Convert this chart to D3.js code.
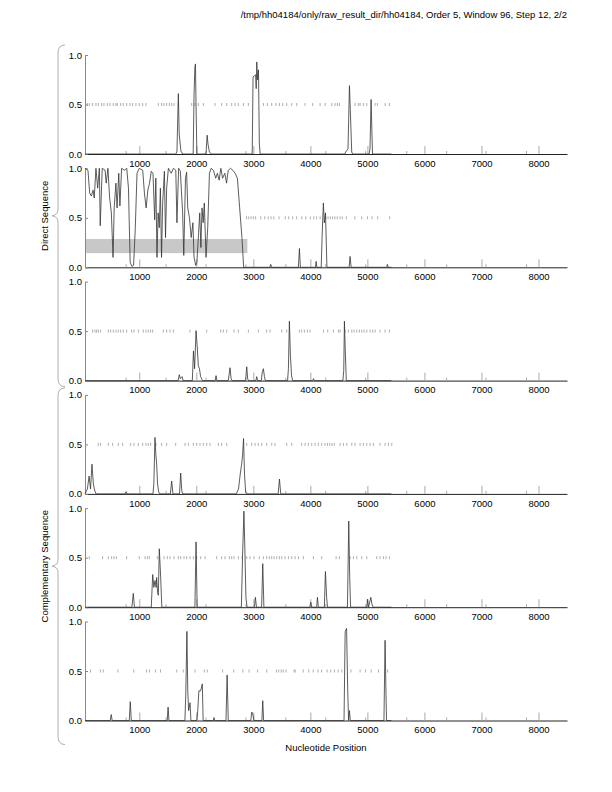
<!DOCTYPE html>
<html>
<head>
<meta charset="utf-8">
<script src="https://cdn.jsdelivr.net/npm/d3@7"></script>
<style>
  body { margin: 0; background: #fff; }
  text { font-family: "Liberation Sans", Arial, Helvetica, sans-serif; font-size: 9.5px; fill: #000; }
</style>
</head>
<body>
<div id="chart"></div>
<script>
const titleText = "/tmp/hh04184/only/raw_result_dir/hh04184, Order 5, Window 96, Step 12, 2/2";
const xTicks = [1000, 2000, 3000, 4000, 5000, 6000, 7000, 8000];
const xMinorTicks = [770, 1470, 2170, 2870, 3570, 4270, 4970, 5690, 6390, 7080, 7790];
const yTicks = [0, 0.5, 1];
const strandLabels = ["Direct Sequence", "Complementary Sequence"];

// coding potential per frame: [position, value]
const curve1 = [[48,0],[1640,0],[1660,0.02],[1685,0.61],[1700,0.2],[1730,0.03],[1760,0],
  [1945,0],[1960,0.6],[1975,0.88],[1985,0.91],[1995,0.5],[2010,0],
  [2170,0],[2190,0.19],[2205,0.1],[2230,0.02],[2260,0],
  [2980,0],[2995,0.78],[3020,0.79],[3040,0.8],[3050,0.66],[3060,0.93],[3075,0.75],[3090,0.85],[3105,0.1],[3120,0],
  [4600,0],[4630,0.03],[4660,0.05],[4685,0.69],[4700,0.45],[4725,0.02],[4740,0],
  [5030,0],[5045,0.05],[5065,0.55],[5080,0.2],[5090,0],[5420,0]];
const curve2 = [[48,1],[100,0.98],[130,0.75],[160,0.72],[190,0.78],[210,0.7],[240,1],[270,0.8],[300,1],[315,0.42],
  [350,1],[400,0.98],[420,0.85],[450,1],[480,0.7],[510,0.55],[540,0.1],[560,0.6],[590,0.85],[610,0.6],[640,0.95],
  [660,0.62],[690,1],[740,0.98],[780,1],[810,0.8],[840,0.05],[870,0.01],[900,0.02],[930,0.4],[960,0.95],[1000,1],
  [1060,0.98],[1090,0.75],[1120,0.6],[1150,0.78],[1180,0.85],[1210,0.97],[1240,0.95],[1270,0.48],[1290,0.9],
  [1310,0.1],[1330,0.55],[1350,0.4],[1370,0.8],[1390,0.1],[1410,0.65],[1440,0.97],[1460,0.3],[1480,0.8],[1510,1],
  [1560,0.95],[1600,1],[1640,0.98],[1660,0.45],[1690,1],[1720,0.97],[1760,0.55],[1780,0.12],[1810,0.9],[1830,0.96],
  [1850,0.6],[1880,0.5],[1910,0.3],[1940,0.45],[1960,0.1],[1990,0.02],[2010,0.05],[2040,0.35],[2060,0.55],[2080,0.2],
  [2100,0.6],[2120,0.45],[2140,0.65],[2170,0.1],[2200,0.4],[2230,0.95],[2260,1],[2300,0.98],[2340,0.9],[2370,0.95],
  [2400,0.88],[2430,1],[2460,0.9],[2500,0.95],[2530,0.85],[2560,0.98],[2600,1],[2640,0.98],[2680,0.95],[2720,0.9],
  [2760,0.6],[2800,0.3],[2830,0],
  [3290,0],[3305,0.03],[3320,0],[3790,0],[3808,0.19],[3825,0],[4090,0],[4100,0.06],[4115,0],
  [4190,0],[4205,0.3],[4228,0.65],[4245,0.45],[4265,0.55],[4290,0],
  [4680,0],[4696,0.11],[4715,0],[5340,0],[5350,0.03],[5365,0],[5420,0]];
const curve3 = [[48,0],[1680,0],[1702,0.06],[1720,0.02],[1750,0.04],[1770,0],
  [1930,0],[1950,0.3],[1970,0.12],[1995,0.5],[2015,0.35],[2035,0.15],[2055,0.12],[2075,0.04],[2110,0],
  [2330,0],[2346,0.05],[2360,0],
  [2560,0],[2575,0.06],[2591,0.13],[2610,0.02],[2625,0],
  [2865,0],[2884,0.14],[2900,0.02],[2915,0],
  [3045,0],[3059,0.04],[3075,0],
  [3140,0],[3155,0.08],[3176,0.12],[3195,0.04],[3210,0],
  [3600,0],[3615,0.12],[3632,0.6],[3650,0.25],[3670,0.05],[3690,0],
  [4040,0],[4055,0.02],[4070,0],
  [4570,0],[4585,0.1],[4597,0.6],[4612,0.3],[4630,0],[5420,0]];
const curve4 = [[48,0],[90,0.05],[120,0.18],[145,0.05],[170,0.3],[195,0.1],[215,0.04],[240,0],
  [750,0],[767,0.02],[785,0],
  [1240,0],[1255,0.1],[1275,0.57],[1290,0.4],[1305,0.3],[1320,0.1],[1340,0.02],[1360,0],
  [1545,0],[1568,0.13],[1590,0],
  [1705,0],[1726,0.21],[1745,0.03],[1765,0],
  [2700,0],[2740,0.05],[2770,0.2],[2795,0.3],[2812,0.4],[2828,0.56],[2845,0.2],[2865,0.02],[2890,0],
  [3435,0],[3458,0.15],[3480,0],[5420,0]];
const curve5 = [[48,0],[870,0],[895,0.14],[915,0],
  [1210,0],[1235,0.33],[1255,0.2],[1276,0.27],[1295,0.2],[1305,0.3],[1320,0.15],[1334,0.12],[1351,0.59],[1375,0.3],[1395,0],
  [1975,0],[1995,0.66],[2015,0],
  [2790,0],[2810,0.5],[2835,0.97],[2850,0.62],[2870,0.1],[2890,0],
  [3020,0],[3036,0.1],[3055,0],
  [3145,0],[3165,0.44],[3185,0],
  [3990,0],[4007,0.05],[4025,0],[4110,0],[4124,0.1],[4140,0],
  [4245,0],[4264,0.36],[4285,0.1],[4300,0],
  [4650,0],[4673,0.87],[4690,0.3],[4705,0],
  [4990,0],[5000,0.08],[5020,0],[5060,0.1],[5080,0.03],[5100,0],[5420,0]];
const curve6 = [[48,0],[490,0],[508,0.06],[525,0],
  [825,0],[842,0.19],[860,0],
  [1490,0],[1505,0.135],[1520,0],
  [1800,0],[1815,0.27],[1835,0.9],[1850,0.3],[1865,0.1],[1890,0.18],[1905,0],
  [2010,0],[2025,0.1],[2045,0.3],[2075,0.3],[2105,0.37],[2120,0],
  [2300,0],[2310,0.03],[2320,0],
  [2520,0],[2540,0.46],[2560,0],
  [2955,0],[2972,0.085],[2995,0.05],[3010,0],
  [3150,0],[3165,0.2],[3180,0],
  [4590,0],[4610,0.9],[4635,0.93],[4655,0.3],[4670,0],[4685,0.1],[4700,0],
  [5290,0],[5310,0.81],[5322,0.4],[5335,0],[5420,0]];

// stop codon positions per frame
const stops1 = [88,123,181,240,281,340,380,439,485,544,590,614,673,719,778,836,883,941,1000,1059,1117,1334,1392,1433,1480,
  1527,1568,1609,1685,1919,1977,2036,2123,2328,2445,2533,2620,2679,2737,2825,2913,3176,3246,3322,3398,3457,3515,3585,
  3673,3761,3907,4041,4170,4258,4375,4433,4474,4509,4784,4842,4872,4930,4989,5135,5175,5311,5386];
const stops2 = [2880,2920,2960,3000,3040,3130,3200,3260,3310,3360,3450,3560,3620,3690,3760,3850,3920,4000,4060,4110,4170,
  4270,4310,4350,4390,4430,4470,4520,4560,4630,4780,4900,5000,5080,5180,5390];
const stops3 = [182,223,252,281,322,457,498,544,590,632,673,719,778,866,907,983,1070,1117,1158,1199,1234,1421,1480,1538,
  1597,1889,1995,2182,2428,2474,2533,2661,2737,2913,3088,3234,3293,3497,3585,3807,3848,3895,3947,3994,4228,4304,4404,
  4492,4521,4609,4667,4726,4766,4813,4860,4901,4942,4989,5047,5094,5135,5222,5310,5386];
const stops4 = [281,322,457,533,632,708,849,907,983,1059,1117,1158,1199,1292,1392,1480,1638,1802,1860,1948,2006,2065,2123,
  2182,2240,2387,2445,2533,2884,2971,3030,3088,3147,3234,3322,3380,3585,3673,3848,3907,3965,4024,4082,4140,4199,4257,
  4300,4340,4380,4420,4521,4579,4638,4726,4784,4872,4930,4989,5047,5105,5222,5310,5369,5427];
const stops5 = [123,357,457,515,556,597,778,1000,1100,1141,1176,1316,1433,1492,1538,1609,1685,1726,1784,1831,1889,1948,
  2006,2077,2153,2357,2445,2503,2579,2620,2661,2737,2802,2884,2942,3012,3105,3176,3234,3281,3322,3363,3410,3457,3497,
  3556,3615,3673,3731,3790,3877,4053,4199,4451,4509,4696,4755,4813,4901,4989,5164,5222,5281,5327,5386];
const stops6 = [144,318,368,626,903,1128,1179,1283,1372,1656,1770,1977,2140,2193,2461,2656,2816,2925,3075,3235,3405,3444,
  3489,3525,3573,3714,3733,3875,3972,4049,4133,4196,4293,4358,4422,4486,4551,4712,4872,4968,5066,5195,5355];

// shaded gene region: [panel, start, end, low, high]
const genes = [[1, 48, 2895, 0.143, 0.286]];

const curves = [curve1, curve2, curve3, curve4, curve5, curve6];
const stops = [stops1, stops2, stops3, stops4, stops5, stops6];

const width = 612, height = 792;
const plotLeft = 85, plotRight = 567;
const firstTop = 55, panelHeight = 99, panelStep = 113.3;

const svg = d3.select("#chart").append("svg")
  .attr("width", width)
  .attr("height", height);

const x = d3.scaleLinear().domain([48, 8500]).range([plotLeft, plotRight]);

svg.append("text")
  .attr("x", plotRight)
  .attr("y", 17.5)
  .attr("text-anchor", "end")
  .text(titleText);

curves.forEach((curve, i) => {
  const top = firstTop + i * panelStep;
  const y = d3.scaleLinear().domain([0, 1]).range([top + panelHeight, top]);
  const g = svg.append("g");

  genes.filter(d => d[0] === i).forEach(d => {
    g.append("rect")
      .attr("x", x(d[1]))
      .attr("width", x(d[2]) - x(d[1]))
      .attr("y", y(d[4]))
      .attr("height", y(d[3]) - y(d[4]))
      .attr("fill", "#c8c8c8");
  });

  // stop codons at the 0.5 level
  g.selectAll(".stop").data(stops[i]).enter()
    .append("line")
    .attr("x1", d => x(d)).attr("x2", d => x(d))
    .attr("y1", y(0.5) - 1.5).attr("y2", y(0.5) + 1.5)
    .attr("stroke", "#999")
    .attr("stroke-width", 0.8);

  // x axis
  const xAxis = g.append("g")
    .attr("transform", `translate(0,${y(0)})`)
    .call(d3.axisBottom(x).tickValues(xTicks).tickFormat(d3.format("d"))
      .tickSizeInner(-8).tickSizeOuter(0).tickPadding(6));
  xAxis.select(".domain").attr("stroke", "#222");
  xAxis.selectAll(".tick line").attr("stroke", "#aaa");
  xAxis.selectAll("text").attr("font-size", null).attr("font-family", null);

  g.selectAll(".minor").data(xMinorTicks).enter()
    .append("line")
    .attr("x1", d => x(d)).attr("x2", d => x(d))
    .attr("y1", y(0)).attr("y2", y(0) - 3)
    .attr("stroke", "#aaa");

  // y axis
  const yAxis = g.append("g")
    .attr("transform", `translate(${plotLeft},0)`)
    .call(d3.axisLeft(y).tickValues(yTicks).tickFormat(d3.format(".1f"))
      .tickSizeInner(-3).tickSizeOuter(0).tickPadding(3));
  yAxis.select(".domain").attr("stroke", "#888");
  yAxis.selectAll(".tick line").attr("stroke", "#888");
  yAxis.selectAll("text").attr("font-size", null).attr("font-family", null);

  const line = d3.line().x(d => x(d[0])).y(d => y(d[1]));
  g.append("path")
    .datum(curve)
    .attr("d", line)
    .attr("fill", "none")
    .attr("stroke", "#333")
    .attr("stroke-width", 0.8);
});

// strand braces
const braceX = 58;
strandLabels.forEach((label, k) => {
  const yTop = firstTop + 3 * k * panelStep - (k === 0 ? 10 : 7);
  const yBot = firstTop + (3 * k + 2) * panelStep + panelHeight + (k === 0 ? 6 : 24);
  const yMid = (yTop + yBot) / 2;
  const p = d3.path();
  p.moveTo(braceX + 7, yTop);
  p.quadraticCurveTo(braceX, yTop, braceX, yTop + 8);
  p.lineTo(braceX, yMid - 6);
  p.quadraticCurveTo(braceX, yMid - 1, braceX - 6, yMid);
  p.quadraticCurveTo(braceX, yMid + 1, braceX, yMid + 6);
  p.lineTo(braceX, yBot - 8);
  p.quadraticCurveTo(braceX, yBot, braceX + 7, yBot);
  svg.append("path")
    .attr("d", p.toString())
    .attr("fill", "none")
    .attr("stroke", "#999")
    .attr("stroke-width", 0.8);

  svg.append("text")
    .attr("transform", `translate(${braceX - 10},${yMid}) rotate(-90)`)
    .attr("text-anchor", "middle")
    .text(label);
});

svg.append("text")
  .attr("x", (plotLeft + plotRight) / 2)
  .attr("y", 751)
  .attr("text-anchor", "middle")
  .text("Nucleotide Position");
</script>
</body>
</html>
